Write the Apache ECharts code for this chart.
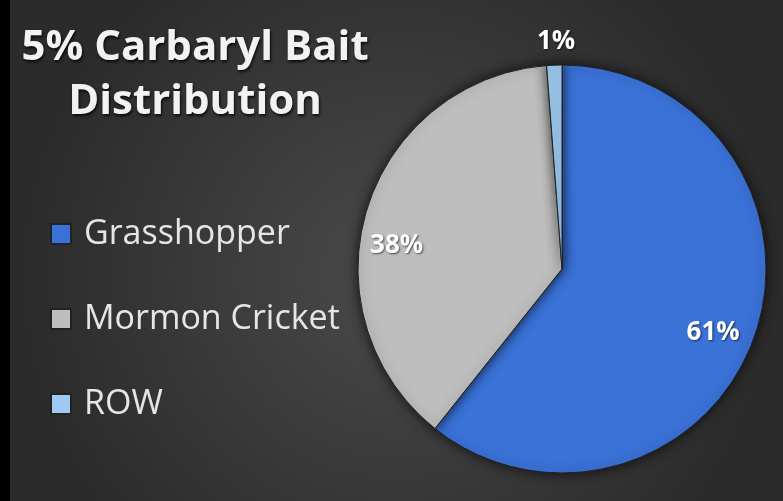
<!DOCTYPE html>
<html>
<head>
<meta charset="utf-8">
<script src="https://cdn.jsdelivr.net/npm/echarts@6/dist/echarts.min.js"></script>
<style>
  html, body { margin: 0; padding: 0; background: #000; }
  #main { position: absolute; left: 10px; top: 0; width: 773px; height: 501px; }
</style>
</head>
<body>
<div id="main"></div>
<script>
// 数据
var categories = ['Grasshopper', 'Mormon Cricket', 'ROW'];
var values = [60.7, 38.1, 1.2];
var colors = ['#3b72d8', '#bebebe', '#9dcaf0'];
// 标签微调 (像素偏移)
var labelShift = [[52, 29], [-65, 7], [-2, -122]];

var chart = echarts.init(document.getElementById('main'));

var pieData = categories.map(function (name, i) {
  return { name: name, value: values[i], itemStyle: { color: colors[i] } };
});

chart.setOption({
  backgroundColor: new echarts.graphic.RadialGradient(0.5, 0.55, 0.75, [
    { offset: 0, color: '#4a4a4a' },
    { offset: 1, color: '#2b2b2b' }
  ]),
  title: {
    text: '5% Carbaryl Bait\nDistribution',
    left: 180,
    top: 16,
    textAlign: 'center',
    textStyle: {
      fontFamily: 'Open Sans',
      fontWeight: 'bold',
      fontSize: 42,
      lineHeight: 54,
      color: '#f2f2f2',
      textShadowColor: 'rgba(0,0,0,0.8)',
      textShadowBlur: 3,
      textShadowOffsetX: 1,
      textShadowOffsetY: 2
    }
  },
  legend: {
    orient: 'vertical',
    left: 35,
    top: 211,
    icon: 'rect',
    itemWidth: 20,
    itemHeight: 20,
    itemGap: 49,
    data: categories,
    textStyle: {
      fontFamily: 'Open Sans',
      fontSize: 34,
      lineHeight: 36,
      color: '#e6e6e6',
      padding: [0, 0, 0, 8]
    }
  },
  series: [
    {
      name: 'Distribution',
      type: 'pie',
      center: [552, 269],
      radius: [0, 204],
      startAngle: 90,
      clockwise: true,
      data: pieData,
      itemStyle: {
        borderColor: '#222',
        borderWidth: 1,
        shadowBlur: 12,
        shadowColor: 'rgba(0,0,0,0.7)'
      },
      label: {
        show: true,
        position: 'inside',
        formatter: function (p) { return Math.round(p.value) + '%'; },
        fontFamily: 'Open Sans',
        fontWeight: 'bold',
        fontSize: 26,
        color: '#ffffff',
        textShadowColor: 'rgba(0,0,0,0.6)',
        textShadowBlur: 2,
        textShadowOffsetX: 1,
        textShadowOffsetY: 1
      },
      labelLine: { show: false },
      labelLayout: function (params) {
        var s = labelShift[params.dataIndex];
        return { dx: s[0], dy: s[1] };
      },
      emphasis: { disabled: true },
      silent: true,
      animation: false
    }
  ]
});
</script>
</body>
</html>
